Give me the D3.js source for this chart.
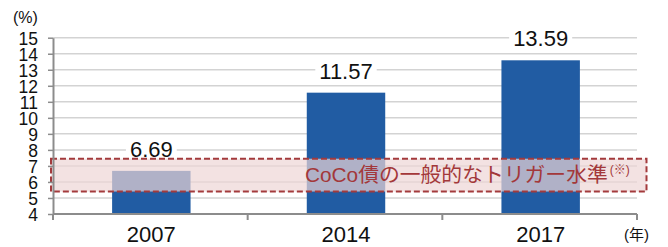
<!DOCTYPE html>
<html><head><meta charset="utf-8">
<script src="https://cdn.jsdelivr.net/npm/d3@7/dist/d3.min.js"></script>
<style>
body{margin:0;background:#fff;}
text{font-family:"Liberation Sans","Noto Sans CJK JP",Arial,sans-serif;}
</style></head>
<body>
<svg id="c" width="668" height="247"></svg>
<script>
const categories = ["2007","2014","2017"];
const values = [6.69, 11.57, 13.59];
const yTicks = [4,5,6,7,8,9,10,11,12,13,14,15];
const triggerRange = [5.4, 7.45];
const triggerLabel = "CoCo債の一般的なトリガー水準";
const triggerNote = "(※)";
const yUnit = "(%)";
const xUnit = "(年)";

(function(){
const svg = d3.select("#c");
const pLeft = 53, pRight = 637, pTop = 37.7, pBottom = 214;
const x = d3.scaleBand().domain(categories).range([pLeft, pRight]).paddingInner(0).paddingOuter(0);
const y = d3.scaleLinear().domain([4, 15]).range([pBottom, pTop]);
const barW = x.bandwidth() * 0.403;

// gridlines
svg.append("g").selectAll("line").data(yTicks.filter(d => d > 4)).join("line")
  .attr("x1", pLeft).attr("x2", pRight)
  .attr("y1", d => y(d)).attr("y2", d => y(d))
  .attr("stroke", "#d3d3d3").attr("stroke-width", 1.5);

// bars
svg.append("g").selectAll("rect").data(values).join("rect")
  .attr("x", (d, i) => x(categories[i]) + x.bandwidth() / 2 - barW / 2 + 1)
  .attr("width", barW)
  .attr("y", d => y(d))
  .attr("height", d => y(4) - y(d))
  .attr("fill", "#215ca3");

// labels with white backgrounds
const lg = svg.append("g");
values.forEach((v, i) => {
  const cx = x(categories[i]) + x.bandwidth() / 2 + 1;
  const t = lg.append("text").attr("x", cx).attr("y", y(v) - 14)
    .attr("text-anchor", "middle").attr("font-size", 22).attr("fill", "#111")
    .text(v.toFixed(2));
  const bb = t.node().getBBox();
  lg.insert("rect", "text").attr("x", bb.x - 4).attr("y", bb.y + 3).attr("width", bb.width + 8)
    .attr("height", bb.height - 6).attr("fill", "#fff");
});

// trigger band
svg.append("rect")
  .attr("x", 51).attr("width", 646.5 - 51)
  .attr("y", y(triggerRange[1])).attr("height", y(triggerRange[0]) - y(triggerRange[1]))
  .attr("fill", "rgb(238,214,214)").attr("fill-opacity", 0.7)
  .attr("stroke", "#a33a3c").attr("stroke-width", 2).attr("stroke-dasharray", "6,3");

const tt = svg.append("text").attr("x", 305).attr("y", 182)
  .attr("fill", "#a3383a").attr("font-size", 20.8);
tt.append("tspan").text(triggerLabel);
tt.append("tspan").attr("font-size", 12).attr("dy", -8).attr("dx", 2).text(triggerNote);

// y axis
const yAxis = d3.axisLeft(y).tickValues(yTicks).tickSize(5).tickSizeOuter(0).tickPadding(10);
const ya = svg.append("g").attr("transform", `translate(${pLeft},0)`).call(yAxis);
ya.select(".domain").attr("stroke", "#8c8c8c").attr("stroke-width", 2);
ya.selectAll(".tick line").attr("stroke", "#8c8c8c").attr("stroke-width", 1.5);
ya.selectAll(".tick text").attr("font-size", 17.5).attr("fill", "#111")
  .attr("font-family", "Liberation Sans, Arial, sans-serif").attr("dy", "0.36em");

// x axis
const xa = svg.append("g").attr("transform", `translate(0,${pBottom})`);
xa.append("line").attr("x1", pLeft).attr("x2", pRight).attr("stroke", "#8c8c8c").attr("stroke-width", 2);
const bounds = [pLeft].concat(categories.map(c => x(c) + x.bandwidth()));
xa.selectAll("line.tk").data(bounds).join("line").attr("class", "tk")
  .attr("x1", d => d).attr("x2", d => d).attr("y1", 0).attr("y2", 6)
  .attr("stroke", "#8c8c8c").attr("stroke-width", 2);
xa.selectAll("text").data(categories).join("text")
  .attr("x", d => x(d) + x.bandwidth() / 2 + 1).attr("y", 28)
  .attr("text-anchor", "middle").attr("font-size", 22).attr("fill", "#111")
  .text(d => d);

svg.append("text").attr("x", 13).attr("y", 23).attr("font-size", 16).attr("fill", "#111").text(yUnit);
svg.append("text").attr("x", 624).attr("y", 240).attr("font-size", 15).attr("fill", "#111").text(xUnit);
})();
</script>
</body></html>
